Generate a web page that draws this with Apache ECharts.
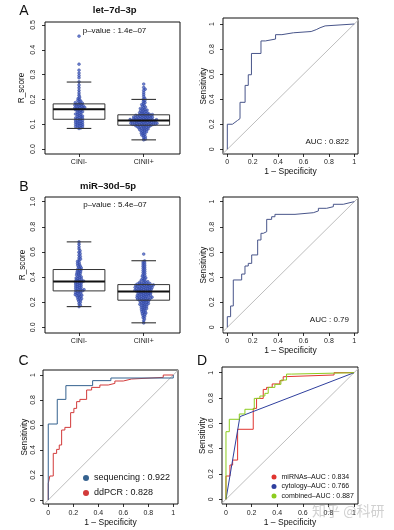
<!DOCTYPE html>
<html><head><meta charset="utf-8">
<script src="https://cdn.jsdelivr.net/npm/echarts@6/dist/echarts.min.js"></script>
<style>html,body{margin:0;padding:0;background:#fff}#c{width:394px;height:530px}</style>
</head><body><div id="c"></div>
<script>
const FONT = 'Liberation Sans, Arial, Helvetica, sans-serif';

// ---------- DATA ----------
const categories = ['CINI-', 'CINII+'];
const titleA = 'let–7d–3p';
const titleB = 'miR–30d–5p';
const pvalA = 'p–value : 1.4e–07';
const pvalB = 'p–value : 5.4e–07';
const aucA = 'AUC : 0.822';
const aucB = 'AUC : 0.79';

// box stats: [min, Q1, median, Q3, max]
const boxA = [[0.083, 0.12, 0.16, 0.182, 0.27], [0.037, 0.096, 0.115, 0.138, 0.2]];
const boxB = [[0.165, 0.29, 0.365, 0.46, 0.68], [0.036, 0.216, 0.285, 0.34, 0.53]];

const scoreA_neg = [0.455, 0.342, 0.318, 0.306, 0.296, 0.287, 0.271, 0.258, 0.247, 0.236, 0.226, 0.217, 0.209, 0.204, 0.199, 0.196, 0.193, 0.19, 0.187, 0.185, 0.183,
  0.181, 0.18, 0.178, 0.177, 0.175, 0.174, 0.172, 0.171, 0.17, 0.168, 0.167, 0.165, 0.164, 0.162, 0.161, 0.16,
  0.158, 0.156, 0.154, 0.152, 0.15, 0.148, 0.146, 0.144, 0.141, 0.139, 0.137, 0.135, 0.133, 0.131, 0.129, 0.127, 0.125, 0.124, 0.122,
  0.12, 0.118, 0.116, 0.115, 0.113, 0.111, 0.109, 0.108, 0.106, 0.104, 0.102, 0.101, 0.099, 0.097, 0.096, 0.094, 0.092, 0.09, 0.089, 0.087, 0.085, 0.083];
const scoreA_pos = [0.262, 0.248, 0.241, 0.236, 0.227, 0.219, 0.211, 0.204, 0.2, 0.196, 0.191, 0.187, 0.183, 0.179, 0.176, 0.172, 0.169, 0.166, 0.163, 0.161, 0.159, 0.157, 0.155, 0.153, 0.151, 0.149, 0.148, 0.146, 0.145, 0.143, 0.142, 0.141, 0.14, 0.139,
  0.138, 0.137, 0.136, 0.136, 0.135, 0.134, 0.133, 0.132, 0.132, 0.131, 0.13, 0.129, 0.128, 0.128, 0.127, 0.126, 0.125, 0.125, 0.124, 0.123, 0.122, 0.122, 0.121, 0.12, 0.12, 0.119, 0.118, 0.118, 0.117, 0.117, 0.116, 0.116, 0.115, 0.115,
  0.114, 0.114, 0.113, 0.113, 0.112, 0.112, 0.111, 0.11, 0.11, 0.109, 0.109, 0.108, 0.107, 0.107, 0.106, 0.106, 0.105, 0.104, 0.104, 0.103, 0.103, 0.102, 0.101, 0.101, 0.1, 0.1, 0.099, 0.099, 0.098, 0.098, 0.097, 0.097,
  0.096, 0.095, 0.094, 0.093, 0.092, 0.091, 0.09, 0.089, 0.088, 0.087, 0.085, 0.084, 0.083, 0.081, 0.08, 0.078, 0.077, 0.075, 0.073, 0.071, 0.069, 0.067, 0.064, 0.062, 0.059, 0.056, 0.053, 0.049, 0.045, 0.04, 0.037];
const scoreB_neg = [0.68, 0.662, 0.641, 0.624, 0.609, 0.597, 0.586, 0.574, 0.563, 0.552, 0.543, 0.534, 0.525, 0.517, 0.508, 0.5, 0.493, 0.486, 0.479, 0.472, 0.466, 0.461,
  0.456, 0.451, 0.446, 0.441, 0.436, 0.431, 0.426, 0.421, 0.416, 0.411, 0.406, 0.401, 0.396, 0.392, 0.387, 0.383, 0.379, 0.375, 0.371, 0.368, 0.365,
  0.362, 0.358, 0.355, 0.351, 0.347, 0.343, 0.339, 0.335, 0.331, 0.327, 0.323, 0.319, 0.315, 0.311, 0.307, 0.303, 0.3, 0.297, 0.294, 0.291,
  0.288, 0.284, 0.28, 0.276, 0.272, 0.268, 0.264, 0.26, 0.256, 0.252, 0.248, 0.243, 0.238, 0.233, 0.228, 0.222, 0.216, 0.208, 0.199, 0.188, 0.176, 0.165];
const scoreB_pos = [0.583, 0.528, 0.519, 0.511, 0.503, 0.495, 0.487, 0.479, 0.47, 0.462, 0.454, 0.446, 0.438, 0.43, 0.422, 0.414, 0.407, 0.4, 0.394, 0.388, 0.382, 0.377, 0.372, 0.367, 0.363, 0.359, 0.356, 0.353, 0.35, 0.348, 0.346, 0.344, 0.342, 0.341,
  0.339, 0.337, 0.336, 0.334, 0.333, 0.331, 0.33, 0.328, 0.326, 0.325, 0.323, 0.321, 0.32, 0.318, 0.316, 0.315, 0.313, 0.311, 0.31, 0.308, 0.306, 0.305, 0.303, 0.301, 0.3, 0.298, 0.296, 0.295, 0.293, 0.291, 0.29, 0.288, 0.287, 0.286,
  0.284, 0.282, 0.28, 0.278, 0.276, 0.274, 0.272, 0.27, 0.268, 0.266, 0.264, 0.262, 0.26, 0.258, 0.256, 0.254, 0.252, 0.25, 0.248, 0.246, 0.244, 0.242, 0.24, 0.238, 0.236, 0.234, 0.232, 0.23, 0.228, 0.226, 0.224, 0.222, 0.22, 0.218, 0.216,
  0.213, 0.21, 0.207, 0.204, 0.201, 0.198, 0.195, 0.192, 0.189, 0.186, 0.183, 0.18, 0.177, 0.173, 0.169, 0.165, 0.161, 0.157, 0.153, 0.149, 0.145, 0.14, 0.135, 0.13, 0.125, 0.12, 0.114, 0.108, 0.101, 0.094, 0.086, 0.077, 0.066, 0.052, 0.035];

// ROC curves (1 - specificity, sensitivity)
const rocA_fpr = [0, 0, 0.04, 0.04, 0.06, 0.06, 0.08, 0.08, 0.1, 0.1, 0.14, 0.14, 0.165, 0.165, 0.19, 0.19, 0.265, 0.265, 0.3, 0.3, 0.38, 0.38, 0.43, 0.43, 0.52, 0.52, 0.66, 0.66, 0.7, 0.7, 0.73, 0.73, 0.77, 0.77, 1];
const rocA_tpr = [0, 0.2, 0.2, 0.215, 0.215, 0.23, 0.23, 0.245, 0.245, 0.375, 0.375, 0.51, 0.51, 0.595, 0.595, 0.765, 0.765, 0.865, 0.865, 0.88, 0.88, 0.915, 0.915, 0.93, 0.93, 0.94, 0.94, 0.955, 0.955, 0.97, 0.97, 0.985, 0.985, 1, 1];
const rocB_fpr = [0, 0, 0.026, 0.026, 0.047, 0.047, 0.113, 0.113, 0.139, 0.139, 0.165, 0.165, 0.192, 0.192, 0.239, 0.239, 0.265, 0.265, 0.283, 0.283, 0.31, 0.31, 0.349, 0.349, 0.375, 0.375, 0.533, 0.533, 0.677, 0.677, 0.717, 0.717, 0.782, 0.782, 0.835, 0.835, 0.913, 0.913, 0.966, 0.966, 1];
const rocB_tpr = [0, 0.085, 0.085, 0.17, 0.17, 0.377, 0.377, 0.424, 0.424, 0.488, 0.488, 0.509, 0.509, 0.576, 0.576, 0.695, 0.695, 0.748, 0.748, 0.761, 0.761, 0.859, 0.859, 0.88, 0.88, 0.899, 0.899, 0.912, 0.912, 0.926, 0.926, 0.947, 0.947, 0.96, 0.96, 0.979, 0.979, 0.992, 0.992, 1, 1];

const seqName = 'sequencing : 0.922';
const seq_fpr = [0, 0, 0.072, 0.072, 0.141, 0.141, 0.355, 0.355, 0.501, 0.501, 1, 1];
const seq_tpr = [0, 0.608, 0.608, 0.805, 0.805, 0.915, 0.915, 0.955, 0.955, 0.976, 0.976, 1];
const pcrName = 'ddPCR : 0.828';
const pcr_fpr = [0, 0, 0.013, 0.013, 0.04, 0.04, 0.067, 0.067, 0.088, 0.088, 0.107, 0.107, 0.133, 0.133, 0.179, 0.179, 0.205, 0.205, 0.227, 0.227, 0.253, 0.253, 0.307, 0.307, 0.347, 0.347, 0.413, 0.413, 0.48, 0.48, 0.533, 0.533, 0.6, 0.6, 0.667, 0.667, 0.92, 0.92, 1];
const pcr_tpr = [0, 0.133, 0.133, 0.192, 0.192, 0.373, 0.373, 0.405, 0.405, 0.44, 0.44, 0.56, 0.56, 0.581, 0.581, 0.699, 0.699, 0.733, 0.733, 0.787, 0.787, 0.805, 0.805, 0.88, 0.88, 0.901, 0.901, 0.92, 0.92, 0.933, 0.933, 0.952, 0.952, 0.968, 0.968, 0.981, 0.981, 1, 1];

const mirName = 'miRNAs–AUC : 0.834';
const mir_fpr = [0, 0, 0.031, 0.031, 0.052, 0.052, 0.091, 0.091, 0.213, 0.213, 0.239, 0.239, 0.291, 0.291, 0.317, 0.317, 0.361, 0.361, 0.421, 0.421, 0.447, 0.447, 0.46, 0.46, 0.844, 0.844, 1];
const mir_tpr = [0, 0.184, 0.184, 0.271, 0.271, 0.31, 0.31, 0.553, 0.553, 0.718, 0.718, 0.797, 0.797, 0.868, 0.868, 0.884, 0.884, 0.911, 0.911, 0.937, 0.937, 0.968, 0.968, 0.982, 0.982, 1, 1];
const cytName = 'cytology–AUC : 0.766';
const cyt_fpr = [0, 0.109, 1];
const cyt_tpr = [0, 0.653, 1];
const comName = 'combined–AUC : 0.887';
const com_fpr = [0, 0, 0.026, 0.026, 0.104, 0.104, 0.148, 0.148, 0.221, 0.221, 0.265, 0.265, 0.304, 0.304, 0.33, 0.33, 0.382, 0.382, 0.429, 0.429, 0.473, 0.473, 0.512, 0.512, 1];
const com_tpr = [0, 0.534, 0.534, 0.632, 0.632, 0.674, 0.674, 0.711, 0.711, 0.797, 0.797, 0.816, 0.816, 0.837, 0.837, 0.884, 0.884, 0.908, 0.908, 0.942, 0.942, 0.989, 0.989, 1, 1];

const diagEnds = [-0.1, 1.1];

// tick values
const boxATicks = [0, 0.1, 0.2, 0.3, 0.4, 0.5];
const boxBTicks = [0, 0.2, 0.4, 0.6, 0.8, 1.0];
const rocTicks = [0, 0.2, 0.4, 0.6, 0.8, 1];
const catTicks = [0, 1];

// ---------- LAYOUT ----------
const G = [
  {left: 45, top: 22, width: 135, height: 132, x: [-0.526, 1.561], y: [-0.02, 0.512]},   // A box
  {left: 223, top: 18, width: 135, height: 136, x: [-0.034, 1.029], y: [-0.0375, 1.048]}, // A roc
  {left: 45, top: 197, width: 135, height: 136, x: [-0.526, 1.561], y: [-0.045, 1.037]},  // B box
  {left: 223, top: 197, width: 135, height: 136, x: [-0.034, 1.029], y: [-0.045, 1.037]}, // B roc
  {left: 43, top: 370, width: 135, height: 134, x: [-0.042, 1.038], y: [-0.032, 1.04]},   // C
  {left: 222, top: 367, width: 136, height: 137, x: [-0.031, 1.031], y: [-0.037, 1.045]}  // D
];
const BOX_HALF = 0.4, CAP_HALF = 0.19;
const SWARM_GAP = 1.9;

function swarm(vals, gi, d) {
  const g = G[gi];
  const pyU = g.height / (g.y[1] - g.y[0]);
  const pxU = g.width / (g.x[1] - g.x[0]);
  const order = vals.map((v, i) => i).sort((a, b) => vals[a] - vals[b]);
  const placed = [];
  const out = new Array(vals.length);
  for (const i of order) {
    const y = vals[i] * pyU;
    const near = placed.filter(p => Math.abs(p.y - y) < d);
    const cands = [0];
    near.forEach(p => { const dx = Math.sqrt(d * d - (p.y - y) * (p.y - y)); cands.push(p.x + dx + 1e-6, p.x - dx - 1e-6); });
    cands.sort((a, b) => Math.abs(a) - Math.abs(b));
    let x = 0;
    for (const c of cands) {
      if (near.every(p => (p.x - c) * (p.x - c) + (p.y - y) * (p.y - y) >= d * d - 1e-4)) { x = c; break; }
    }
    placed.push({x, y});
    out[i] = x / pxU;
  }
  return out;
}
function swarmData(vals, center, gi) {
  const off = swarm(vals, gi, SWARM_GAP);
  return vals.map((v, i) => [center + off[i], v]);
}
const pairs = (xs, ys) => xs.map((x, i) => [x, ys[i]]);

function xAxisDef(gi, ticks, fmt, margin, name, nameGap) {
  const g = G[gi];
  return {
    type: 'value', gridIndex: gi, min: g.x[0], max: g.x[1],
    axisLine: {show: false, onZero: false},
    axisTick: {show: true, length: 3, customValues: ticks, lineStyle: {color: '#000', width: 0.8}},
    axisLabel: {customValues: ticks, formatter: fmt, fontSize: 7, color: '#222', fontFamily: FONT, margin: margin},
    splitLine: {show: false},
    name: name || '', nameLocation: 'middle', nameGap: nameGap || 10,
    nameTextStyle: {fontSize: 8.5, color: '#111', fontFamily: FONT}
  };
}
function yAxisDef(gi, ticks, fmt, margin, name, nameGap) {
  const g = G[gi];
  return {
    type: 'value', gridIndex: gi, min: g.y[0], max: g.y[1],
    axisLine: {show: false, onZero: false},
    axisTick: {show: true, length: 3, customValues: ticks, lineStyle: {color: '#000', width: 0.8}},
    axisLabel: {customValues: ticks, formatter: fmt, fontSize: 7, color: '#222', fontFamily: FONT, margin: margin, rotate: 90},
    splitLine: {show: false},
    name: name, nameLocation: 'middle', nameGap: nameGap, nameRotate: 90,
    nameTextStyle: {fontSize: 8.2, color: '#111', fontFamily: FONT}
  };
}
const fmt1 = v => v.toFixed(1);
const fmtR = v => String(Math.round(v * 10) / 10);
const fmtCat = v => categories[Math.round(v)];

function whiskerRender(params, api) {
  const c = api.value(0);
  const cx = api.coord([c, 0])[0];
  const y = k => api.coord([c, api.value(k)])[1];
  const st = {stroke: '#333', lineWidth: 0.8, lineDash: [2, 2]};
  return {type: 'group', children: [
    {type: 'line', shape: {x1: cx, y1: y(4), x2: cx, y2: y(5)}, style: st},
    {type: 'line', shape: {x1: cx, y1: y(2), x2: cx, y2: y(1)}, style: st}
  ]};
}
function boxRender(params, api) {
  const c = api.value(0);
  const xl = api.coord([c - BOX_HALF, 0])[0], xr = api.coord([c + BOX_HALF, 0])[0];
  const cl = api.coord([c - CAP_HALF, 0])[0], cr = api.coord([c + CAP_HALF, 0])[0];
  const y = k => api.coord([c, api.value(k)])[1];
  const ln = (x1, y1, x2, y2, w, col) => ({type: 'line', shape: {x1, y1, x2, y2}, style: {stroke: col || '#333', lineWidth: w}});
  return {type: 'group', children: [
    ln(cl, y(5), cr, y(5), 1.1),
    ln(cl, y(1), cr, y(1), 1.1),
    {type: 'rect', shape: {x: xl, y: y(4), width: xr - xl, height: y(2) - y(4)}, style: {fill: 'none', stroke: '#333', lineWidth: 1}},
    ln(xl, y(3), xr, y(3), 2, '#111')
  ]};
}

const dotStyle = {color: '#4d67c9', borderColor: '#26398e', borderWidth: 0.5};
function dotSeries(gi, vals, center) {
  return {type: 'scatter', xAxisIndex: gi, yAxisIndex: gi, data: swarmData(vals, center, gi), symbol: 'circle', symbolSize: 2.8, itemStyle: dotStyle, z: 3, silent: true};
}
function lineSeries(gi, name, xs, ys, color, z) {
  return {type: 'line', name: name, xAxisIndex: gi, yAxisIndex: gi, data: pairs(xs, ys), showSymbol: false, symbol: 'circle',
    lineStyle: {color: color, width: 1}, itemStyle: {color: color}, z: z || 3, clip: true, silent: true};
}
function diagSeries(gi) {
  return {type: 'line', xAxisIndex: gi, yAxisIndex: gi, data: pairs(diagEnds, diagEnds), showSymbol: false,
    lineStyle: {color: '#bdbdbd', width: 1}, z: 2, clip: true, silent: true};
}
function boxSeries(gi, stats) {
  const data = stats.map((b, i) => [i].concat(b));
  return [
    {type: 'custom', xAxisIndex: gi, yAxisIndex: gi, data: data, renderItem: whiskerRender, encode: {x: 0, y: [1, 2, 3, 4, 5]}, z: 2, silent: true},
    {type: 'custom', xAxisIndex: gi, yAxisIndex: gi, data: data, renderItem: boxRender, encode: {x: 0, y: [1, 2, 3, 4, 5]}, z: 4, silent: true}
  ];
}

function txt(x, y, text, size, opts) {
  opts = opts || {};
  return {type: 'text', x: x, y: y, silent: true, z: 10,
    style: {text: text, fontSize: size, fontFamily: opts.family || FONT, fontWeight: opts.weight || 'normal',
      fill: opts.fill || '#111', align: opts.align || 'center', verticalAlign: 'middle'}};
}

const option = {
  animation: false,
  backgroundColor: '#fff',
  grid: G.map(g => ({left: g.left, top: g.top, width: g.width, height: g.height, show: true, borderColor: '#111', borderWidth: 1, backgroundColor: 'transparent', containLabel: false, outerBoundsMode: 'none'})),
  xAxis: [
    xAxisDef(0, catTicks, fmtCat, 5),
    xAxisDef(1, rocTicks, fmtR, 5, '1 – Specificity', 11),
    xAxisDef(2, catTicks, fmtCat, 5),
    xAxisDef(3, rocTicks, fmtR, 5, '1 – Specificity', 10),
    xAxisDef(4, rocTicks, fmtR, 6, '1 – Specificity', 13),
    xAxisDef(5, rocTicks, fmtR, 6, '1 – Specificity', 13)
  ],
  yAxis: [
    yAxisDef(0, boxATicks, fmt1, 8, 'R_score', 19),
    yAxisDef(1, rocTicks, fmtR, 7, 'Sensitivity', 13),
    yAxisDef(2, boxBTicks, fmt1, 8, 'R_score', 18),
    yAxisDef(3, rocTicks, fmtR, 7, 'Sensitivity', 13),
    yAxisDef(4, rocTicks, fmtR, 6, 'Sensitivity', 13.5),
    yAxisDef(5, rocTicks, fmtR, 7, 'Sensitivity', 13.5)
  ],
  legend: [
    {data: [seqName, pcrName], orient: 'vertical', left: 83, top: 473, icon: 'circle', itemWidth: 6, itemHeight: 6, itemGap: 5, padding: 0, selectedMode: false,
      textStyle: {fontSize: 9, fontFamily: FONT, color: '#111', lineHeight: 10}},
    {data: [mirName, cytName, comName], orient: 'vertical', left: 271.5, top: 473, icon: 'circle', itemWidth: 5, itemHeight: 5, itemGap: 1.5, padding: 0, selectedMode: false,
      textStyle: {fontSize: 7, fontFamily: FONT, color: '#111', lineHeight: 8}}
  ],
  graphic: [
    txt(24, 11, 'A', 14), txt(24, 187, 'B', 14), txt(23.5, 361, 'C', 14), txt(202, 361, 'D', 14),
    txt(114.7, 10.7, titleA, 9.5, {weight: 'bold'}),
    txt(108, 186.7, titleB, 9.5, {weight: 'bold'}),
    txt(114.5, 30.7, pvalA, 8),
    txt(115, 205, pvalB, 8),
    txt(349, 141.7, aucA, 8, {align: 'right'}),
    txt(349, 320, aucB, 8, {align: 'right'}),
    txt(312, 511, '知乎 @科研', 14, {align: 'left', family: 'Noto Sans CJK SC', fill: 'rgba(150,150,150,0.45)'})
  ],
  series: [
    ...boxSeries(0, boxA),
    dotSeries(0, scoreA_neg, 0),
    dotSeries(0, scoreA_pos, 1),
    diagSeries(1),
    lineSeries(1, 'A', rocA_fpr, rocA_tpr, '#48558a'),
    ...boxSeries(2, boxB),
    dotSeries(2, scoreB_neg, 0),
    dotSeries(2, scoreB_pos, 1),
    diagSeries(3),
    lineSeries(3, 'B', rocB_fpr, rocB_tpr, '#48558a'),
    diagSeries(4),
    lineSeries(4, seqName, seq_fpr, seq_tpr, '#35628f', 4),
    lineSeries(4, pcrName, pcr_fpr, pcr_tpr, '#d23a3a', 3),
    diagSeries(5),
    lineSeries(5, mirName, mir_fpr, mir_tpr, '#e0342f', 3),
    lineSeries(5, cytName, cyt_fpr, cyt_tpr, '#2f3f9e', 4),
    lineSeries(5, comName, com_fpr, com_tpr, '#8ccc1e', 5)
  ]
};

const chart = echarts.init(document.getElementById('c'), null, {renderer: 'canvas', width: 394, height: 530});
chart.setOption(option);
</script>
</body></html>
